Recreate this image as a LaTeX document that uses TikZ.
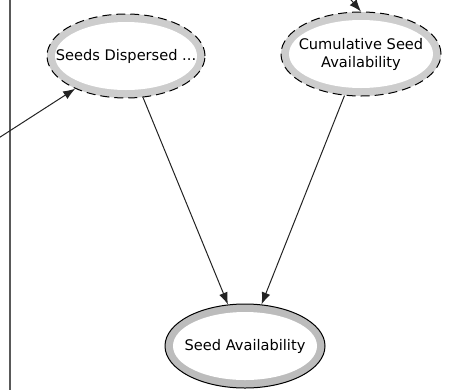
\documentclass[tikz,border=0pt]{standalone}
\usepackage{fontspec}
\setmainfont{DejaVu Sans}
\usetikzlibrary{shapes.geometric,arrows.meta}
\definecolor{ringgray}{RGB}{205,205,205}
\definecolor{ringdark}{RGB}{188,188,188}
\definecolor{edgecol}{RGB}{35,35,35}
\tikzset{
  x=1pt, y=1pt,
  caption/.style={font=\fontsize{14.6}{18}\selectfont, align=center, inner sep=0pt},
  % ellipse whose size is fixed; its text sits in a centred label
  varnode/.style 2 args={ellipse, draw=black, line width=1pt, fill=ringgray,
    minimum width=#1, minimum height=84pt, inner sep=0pt,
    label={[caption]center:#2},
    path picture={\fill[white] (path picture bounding box.center)
      ellipse [x radius=#1/2-8pt, y radius=34pt];}},
  derived/.style 2 args={varnode={#1}{#2}, dash pattern=on 9pt off 5pt},
  plain/.style 2 args={varnode={#1}{#2}, fill=ringdark},
  link/.style={draw=edgecol, line width=1pt, -{Latex[length=12pt,width=9pt]}},
  frame/.style={draw=gray!70!black, line width=1.4pt}
}
\begin{document}
\begin{tikzpicture}
  \useasboundingbox (0,0) rectangle (462,-389);
  \clip (0,0) rectangle (462,-389);

  % left margin rule
  \coordinate (ruletop) at (10,2);
  \coordinate (rulebot) at (10,-391);
  \draw[frame] (ruletop) -- (rulebot);

  % variables
  \node[derived={158pt}{Seeds Dispersed ...}] (sd) at (126,-56) {};
  \node[derived={160pt}{Cumulative Seed\\Availability}] (csa) at (361,-54) {};
  \node[plain={160pt}{Seed Availability}] (sa) at (245,-346) {};

  % incoming links from outside the view
  \coordinate (insd) at (-6,-141);
  \coordinate (incsa) at (346,6);
  \draw[link] (insd) -- (sd);
  \draw[link] (incsa) -- (csa.north);

  % dependencies
  \draw[link] (sd) -- (sa);
  \draw[link] (csa) -- (sa);
\end{tikzpicture}
\end{document}
